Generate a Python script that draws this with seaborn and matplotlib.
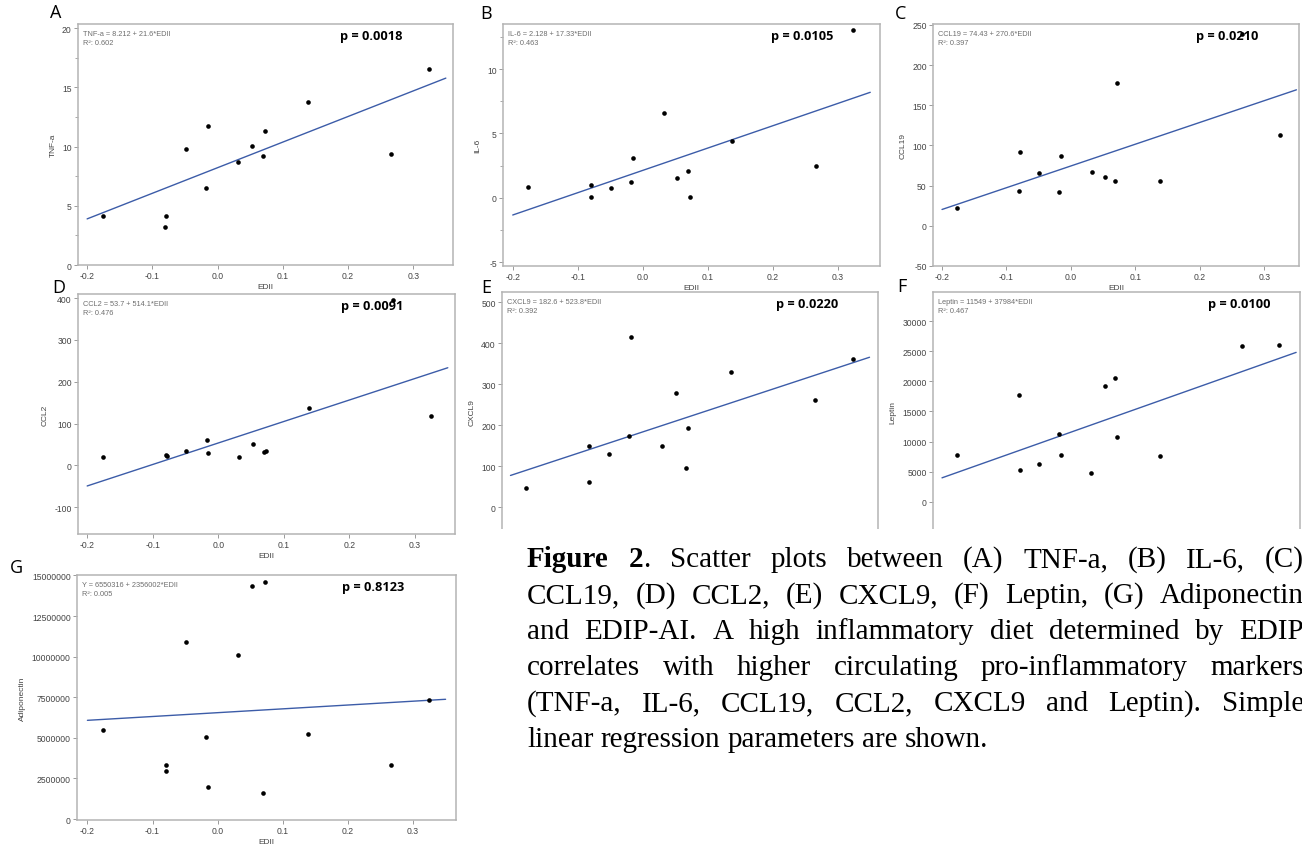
import numpy as np
import matplotlib
matplotlib.use("Agg")
import matplotlib.pyplot as plt
import seaborn as sns
from matplotlib.ticker import MultipleLocator, AutoMinorLocator, FormatStrFormatter
from matplotlib.patches import Rectangle

# ---------------------------
# Data
# ---------------------------
edii = [-0.176, -0.080, -0.079, -0.049, -0.018, -0.015, 0.032, 0.053, 0.069, 0.072, 0.138, 0.266, 0.324]

tnfa = [4.11, 3.24, 4.11, 9.80, 6.54, 11.75, 8.70, 10.03, 9.24, 11.35, 13.75, 9.41, 16.54]
il6 = [0.83, 0.05, 0.99, 0.73, 1.25, 3.06, 6.57, 1.51, 2.10, 0.08, 4.42, 2.47, 13.01]
ccl19 = [21.6, 42.7, 92.1, 65.1, 41.9, 86.7, 67.2, 61.0, 55.2, 177.2, 55.2, 238.6, 112.4]
ccl2 = [19.9, 23.9, 23.1, 35.1, 59.8, 30.3, 20.7, 50.2, 31.9, 34.3, 137.8, 396.0, 117.9]
cxcl9 = [48.4, 61.3, 150.0, 129.8, 174.2, 414.5, 150.8, 279.0, 96.0, 194.4, 330.6, 261.3, 362.1]
leptin = [7707, 17781, 5175, 6276, 11285, 7762, 4679, 19212, 20643, 10790, 7652, 25873, 26038]
adiponectin = [5460000, 2988000, 3338000, 10879000, 5048000, 1999000, 10076000, 14382000,
               1587000, 14588000, 5234000, 3317000, 7335000]

markers = ["TNF-a", "IL-6", "CCL19", "CCL2", "CXCL9", "Leptin", "Adiponectin"]
eq_names = ["TNF-a", "IL-6", "CCL19", "CCL2", "CXCL9", "Leptin", "Y"]
intercepts = [8.212, 2.128, 74.43, 53.7, 182.6, 11549, 6550316]
slopes = [21.6, 17.33, 270.6, 514.1, 523.8, 37984, 2356002]
intercept_txt = ["8.212", "2.128", "74.43", "53.7", "182.6", "11549", "6550316"]
slope_txt = ["21.6", "17.33", "270.6", "514.1", "523.8", "37984", "2356002"]
r2_txt = ["0.602", "0.463", "0.397", "0.476", "0.392", "0.467", "0.005"]
p_txt = ["0.0018", "0.0105", "0.0210", "0.0091", "0.0220", "0.0100", "0.8123"]
letters = ["A", "B", "C", "D", "E", "F", "G"]
fit_range = np.array([-0.2, 0.35])

values = [tnfa, il6, ccl19, ccl2, cxcl9, leptin, adiponectin]

# ---------------------------
# Layout (pixels in a 1302 x 845 canvas)
# ---------------------------
W, H = 1302, 845
# left, top, right, bottom of each axes box
boxes = [(78, 25, 453, 266), (503, 25, 880, 267), (933, 25, 1299, 267),
         (78, 295, 455, 535), (502, 293, 878, 533), (933, 293, 1300, 533),
         (77, 576, 456, 821)]
xlims = [(-0.214, 0.361), (-0.215, 0.365), (-0.214, 0.354),
         (-0.214, 0.361), (-0.213, 0.363), (-0.214, 0.356), (-0.216, 0.366)]
ylims = [(0, 20.34), (-5.3, 13.5), (-50, 251), (-164, 410), (-60, 525),
         (-5070, 34900), (-60000, 15030000)]
ysteps = [5, 5, 50, 100, 100, 5000, 2500000]
minor_y = [True, True, False, False, False, False, False]
hidden_x = [False, False, False, False, True, True, False]  # covered by the caption
p_x = [0.700, 0.710, 0.718, 0.697, 0.728, 0.748, 0.698]
letter_xy = [(50, 4), (480, 5), (895, 5), (52, 279), (481, 279), (897, 278), (10, 559)]

sns.set_theme(style="ticks")
plt.rcParams["font.family"] = ["Liberation Sans", "DejaVu Sans"]

fig = plt.figure(figsize=(W / 100, H / 100), dpi=100)

spine_col = "#b4b4b4"
line_col = "#3c5ca8"

for i in range(7):
    l, t, r, b = boxes[i]
    ax = fig.add_axes([l / W, 1 - b / H, (r - l) / W, (b - t) / H])

    sns.scatterplot(x=edii, y=values[i], ax=ax, color="black", s=11,
                    linewidth=0, zorder=3)
    sns.lineplot(x=fit_range, y=intercepts[i] + slopes[i] * fit_range, ax=ax,
                 color=line_col, linewidth=1.0)

    ax.set_xlim(*xlims[i])
    ax.set_ylim(*ylims[i])
    ax.xaxis.set_major_locator(MultipleLocator(0.1))
    ax.xaxis.set_major_formatter(FormatStrFormatter("%.1f"))
    ax.yaxis.set_major_locator(MultipleLocator(ysteps[i]))
    ax.yaxis.set_major_formatter(FormatStrFormatter("%d"))
    if minor_y[i]:
        ax.yaxis.set_minor_locator(AutoMinorLocator(2))

    for sp in ax.spines.values():
        sp.set_color(spine_col)
        sp.set_linewidth(1.1)
    ax.tick_params(axis="both", which="major", labelsize=6.2, colors="#9a9a9a",
                   labelcolor="#444444", length=3, width=0.7, pad=1.5)
    ax.tick_params(axis="y", which="minor", colors="#9a9a9a", length=2, width=0.6)

    if hidden_x[i]:
        ax.tick_params(axis="x", labelbottom=False)
        ax.set_xlabel("")
    else:
        ax.set_xlabel("EDII", fontsize=6, color="#444444", labelpad=2)
    ax.set_ylabel(markers[i], fontsize=6, color="#444444", labelpad=4)

    ax.text(0.014, 0.975,
            f"{eq_names[i]} = {intercept_txt[i]} + {slope_txt[i]}*EDII\nR²: {r2_txt[i]}",
            transform=ax.transAxes, ha="left", va="top", fontsize=5.3,
            color="#6e6e6e", linespacing=1.35)
    ax.text(p_x[i], 0.953, f"p = {p_txt[i]}", transform=ax.transAxes,
            ha="left", va="center", fontsize=9.2, fontweight="bold",
            family=["Open Sans", "DejaVu Sans"], color="black", zorder=2)

    lx, ly = letter_xy[i]
    fig.text(lx / W, 1 - ly / H, letters[i], ha="left", va="top", fontsize=13,
             color="black", family=["Open Sans", "DejaVu Sans"])

# The caption box sits over the bottom of panels E and F
fig.add_artist(Rectangle((479 / W, 0), 1 - 479 / W, 1 - 530 / H,
                         transform=fig.transFigure, facecolor="white",
                         edgecolor="none", zorder=10))

# ---------------------------
# Justified caption
# ---------------------------
caption = [
    "*Figure* *2*. Scatter plots between (A) TNF-a, (B) IL-6, (C)",
    "CCL19, (D) CCL2, (E) CXCL9, (F) Leptin, (G) Adiponectin",
    "and EDIP-AI. A high inflammatory diet determined by EDIP",
    "correlates with higher circulating pro-inflammatory markers",
    "(TNF-a, IL-6, CCL19, CCL2, CXCL9 and Leptin). Simple",
    "linear regression parameters are shown.",
]
cap_left, cap_right = 527, 1304
last_line_right = 1007
baselines = [567, 603, 639, 675, 711, 747]
serif = ["Liberation Serif", "DejaVu Serif"]

renderer = fig.canvas.get_renderer()


def run_width(s, bold, fs):
    t = fig.text(0, 0, s, fontsize=fs, family=serif,
                 fontweight="bold" if bold else "normal")
    w = t.get_window_extent(renderer).width
    t.remove()
    return w


def word_runs(token):
    parts = token.split("*")
    return [(p, k % 2 == 1) for k, p in enumerate(parts) if p]


def natural_width(line, fs):
    words = line.split(" ")
    total = sum(run_width(s, bd, fs) for w in words for s, bd in word_runs(w))
    return total + 0.25 * fs * 100 / 72 * (len(words) - 1)


# size the serif so the unjustified last line is about as long as in the reference
cap_fs = 10 * (last_line_right - cap_left) / natural_width(caption[-1], 10) * 0.96

for k, line in enumerate(caption):
    words = line.split(" ")
    widths = [[run_width(s, bd, cap_fs) for s, bd in word_runs(w)] for w in words]
    word_w = [sum(ws) for ws in widths]
    if k < len(caption) - 1:
        gap = (cap_right - cap_left - sum(word_w)) / (len(words) - 1)
    else:
        gap = 0.25 * cap_fs * 100 / 72
    x = cap_left
    for w, ws in zip(words, widths):
        xx = x
        for (s, bd), rw in zip(word_runs(w), ws):
            fig.text(xx / W, 1 - baselines[k] / H, s, fontsize=cap_fs, family=serif,
                     fontweight="bold" if bd else "normal", ha="left",
                     va="baseline", color="black", zorder=11)
            xx += rw
        x += sum(ws) + gap

fig.savefig("out.png", dpi=100, facecolor="white")
plt.close(fig)
